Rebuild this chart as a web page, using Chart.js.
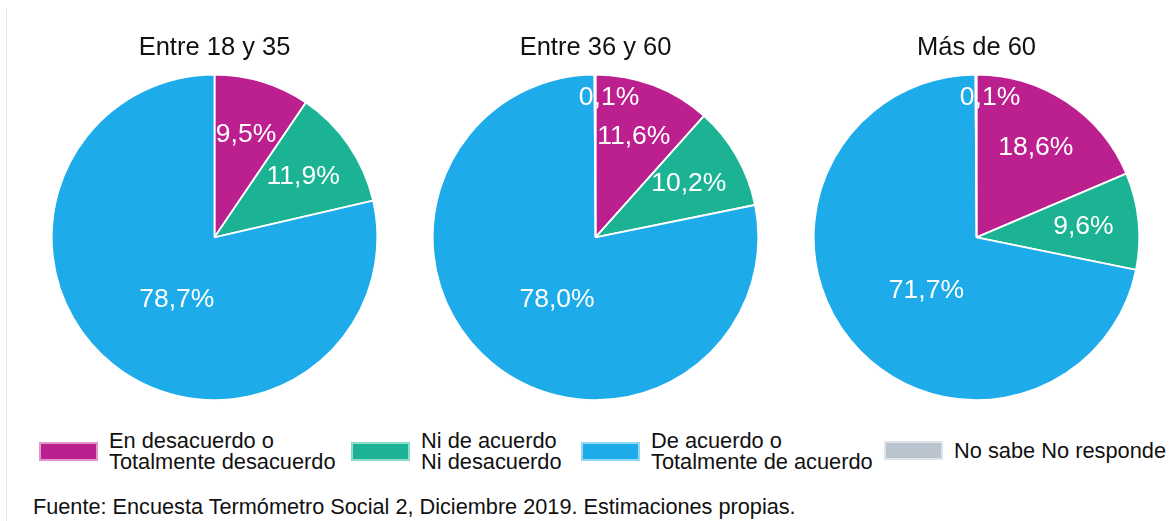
<!DOCTYPE html>
<html>
<head>
<meta charset="utf-8">
<script src="https://cdn.jsdelivr.net/npm/chart.js@4"></script>
<style>
  html, body { margin: 0; padding: 0; background: #fff; }
  body { width: 1172px; height: 521px; position: relative; overflow: hidden; font-family: "Liberation Sans", Arial, sans-serif; }
  .edge { position: absolute; left: 6px; top: 8px; bottom: 0; width: 1px; background: #e6edf1; }
  .pie { position: absolute; top: 20px; width: 381px; height: 378px; }
  #legend { position: absolute; top: 428px; left: 0; width: 1172px; height: 48px; }
  .item { position: absolute; display: flex; align-items: center; }
  .box { width: 57px; height: 17px; margin-right: 12px; box-sizing: border-box; border: 1px solid rgba(255,255,255,0.55); outline: 1px solid; }
  .lbl { font-size: 21.8px; line-height: 21px; color: #111; white-space: nowrap; }
  #source { position: absolute; left: 33px; top: 494px; font-size: 21.7px; color: #111; white-space: nowrap; }
</style>
</head>
<body>
<div class="edge"></div>
<canvas id="c0" class="pie" style="left:24px"></canvas>
<canvas id="c1" class="pie" style="left:405px"></canvas>
<canvas id="c2" class="pie" style="left:786px"></canvas>
<div id="legend"></div>
<div id="source">Fuente: Encuesta Termómetro Social 2, Diciembre 2019. Estimaciones propias.</div>
<script>
const $ = (id) => document.getElementById(id);

// categorías y colores
const categories = [
  ['En desacuerdo o', 'Totalmente desacuerdo'],
  ['Ni de acuerdo', 'Ni desacuerdo'],
  ['De acuerdo o', 'Totalmente de acuerdo'],
  ['No sabe No responde'],
];
const colors = ['#bc1f8e', '#1bb394', '#1dabea', '#bac4cf'];
const outlines = ['#e58fcb', '#7fdcc6', '#8ed6f5', '#dde3ea'];

// grupos de edad
const groups = ['Entre 18 y 35', 'Entre 36 y 60', 'Más de 60'];
const age18to35 = [9.5, 11.9, 78.7, 0];
const age36to60 = [11.6, 10.2, 78.0, 0.1];
const over60 = [18.6, 9.6, 71.7, 0.1];
const series = [age18to35, age36to60, over60];

const fmt = (v) => v.toFixed(1).replace('.', ',') + '%';

// etiquetas dentro de cada sector
const sliceLabels = {
  id: 'sliceLabels',
  afterDatasetsDraw(chart) {
    const ctx = chart.ctx;
    const meta = chart.getDatasetMeta(0);
    const data = chart.data.datasets[0].data;
    ctx.save();
    ctx.font = '26.5px "Liberation Sans", Arial, sans-serif';
    ctx.fillStyle = '#fff';
    ctx.textAlign = 'center';
    ctx.textBaseline = 'middle';
    meta.data.forEach((arc, i) => {
      const v = data[i];
      if (!v) return;
      const { x, y, startAngle, endAngle, outerRadius } = arc.getProps(['x', 'y', 'startAngle', 'endAngle', 'outerRadius'], true);
      let mid = (startAngle + endAngle) / 2;
      if (v > 50) mid -= 0.13; // el sector grande lleva la etiqueta algo más abajo
      const f = v < 1 ? 0.86 : v > 50 ? 0.45 : 0.66;
      ctx.fillText(fmt(v), x + Math.cos(mid) * outerRadius * f + (v < 1 ? 14 : 0), y + Math.sin(mid) * outerRadius * f);
    });
    ctx.restore();
  },
};

series.forEach((vals, k) => {
  new Chart($('c' + k), {
    type: 'pie',
    data: {
      labels: categories.map(c => c.join(' ')),
      datasets: [{ data: vals, backgroundColor: colors, borderColor: '#fff', borderWidth: 1.8, hoverOffset: 0 }],
    },
    options: {
      responsive: false,
      animation: false,
      layout: { padding: 0 },
      plugins: {
        legend: { display: false },
        tooltip: { enabled: false },
        title: {
          display: true, text: groups[k], color: '#111',
          font: { size: 25.5, family: '"Liberation Sans", Arial, sans-serif', weight: 'normal' },
          padding: { top: 13, bottom: 10 },
        },
      },
    },
    plugins: [sliceLabels],
  });
});

// leyenda
const legendX = [40, 352, 582, 885];
$('legend').innerHTML = categories.map((c, i) => `
  <div class="item" style="left:${legendX[i]}px;top:${c.length > 1 ? 2 : 12}px">
    <div class="box" style="background:${colors[i]};outline-color:${outlines[i]}"></div>
    <div class="lbl">${c.join('<br>')}</div>
  </div>`).join('');
</script>
</body>
</html>
